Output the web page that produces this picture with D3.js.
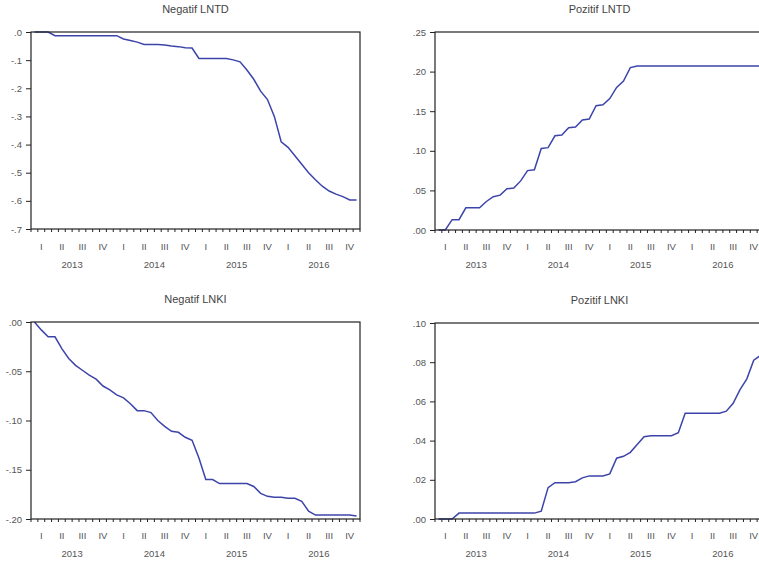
<!DOCTYPE html>
<html>
<head>
<meta charset="utf-8">
<script src="https://cdn.jsdelivr.net/npm/d3@7"></script>
<style>
    body { margin: 0; background: #fff; }
    svg { display: block; }
    .title { font-family: "Liberation Sans", Arial, sans-serif; font-size: 11px; fill: #444; }
    .tick text, .lbl { font-family: "Liberation Sans", Arial, sans-serif; font-size: 9.5px; fill: #555; }
    .line { fill: none; stroke: #3c44aa; stroke-width: 1.5px; }
</style>
</head>
<body>
<div id="chart"></div>
<script>
// monthly observations 2013M01 .. 2016M12
var YEARS = ["2013", "2014", "2015", "2016"];
var QUARTERS = ["I", "II", "III", "IV"];

var negLNTD = [0, 0, 0, -0.013, -0.013, -0.013, -0.013, -0.013, -0.013, -0.013, -0.013, -0.013,
    -0.013, -0.025, -0.030, -0.036, -0.044, -0.044, -0.044, -0.046, -0.050, -0.052, -0.056, -0.057,
    -0.094, -0.094, -0.094, -0.094, -0.094, -0.099, -0.106, -0.135, -0.168, -0.210, -0.240, -0.300,
    -0.390, -0.410, -0.440, -0.470, -0.500, -0.525, -0.548, -0.565, -0.576, -0.585, -0.597, -0.597];

var posLNTD = [0, 0, 0.013, 0.013, 0.028, 0.028, 0.028, 0.036, 0.042, 0.044, 0.052, 0.053,
    0.062, 0.075, 0.076, 0.103, 0.104, 0.119, 0.120, 0.129, 0.130, 0.139, 0.140, 0.157,
    0.158, 0.166, 0.180, 0.188, 0.205, 0.207, 0.207, 0.207, 0.207, 0.207, 0.207, 0.207,
    0.207, 0.207, 0.207, 0.207, 0.207, 0.207, 0.207, 0.207, 0.207, 0.207, 0.207, 0.207];

var negLNKI = [0, -0.008, -0.015, -0.015, -0.027, -0.037, -0.044, -0.049, -0.054, -0.058, -0.065, -0.069,
    -0.074, -0.077, -0.083, -0.090, -0.090, -0.092, -0.100, -0.106, -0.111, -0.112, -0.117, -0.120,
    -0.138, -0.160, -0.160, -0.164, -0.164, -0.164, -0.164, -0.164, -0.167, -0.174, -0.177, -0.178,
    -0.178, -0.179, -0.179, -0.182, -0.192, -0.196, -0.196, -0.196, -0.196, -0.196, -0.196, -0.197];

var posLNKI = [0, 0, 0, 0.003, 0.003, 0.003, 0.003, 0.003, 0.003, 0.003, 0.003, 0.003,
    0.003, 0.003, 0.003, 0.004, 0.016, 0.0185, 0.0185, 0.0185, 0.019, 0.021, 0.022, 0.022,
    0.022, 0.023, 0.031, 0.032, 0.034, 0.038, 0.042, 0.0425, 0.0425, 0.0425, 0.0425, 0.044,
    0.054, 0.054, 0.054, 0.054, 0.054, 0.054, 0.055, 0.059, 0.066, 0.0715, 0.081, 0.0835];

var ticksNegLNTD = [0, -0.1, -0.2, -0.3, -0.4, -0.5, -0.6, -0.7];
var ticksPosLNTD = [0, 0.05, 0.10, 0.15, 0.20, 0.25];
var ticksNegLNKI = [0, -0.05, -0.10, -0.15, -0.20];
var ticksPosLNKI = [0, 0.02, 0.04, 0.06, 0.08, 0.10];

var svg = d3.select("#chart")
    .append("svg")
        .attr("width", 759)
        .attr("height", 563)
        .style("overflow", "hidden");

// strips the leading zero like eviews does: .05, -.10
function evFormat (digits) {
    return function (d) {
        var s = Math.abs(d).toFixed(digits).replace(/^0/, "");
        return (d < 0 ? "-" : "") + s;
    };
}

function makePanel (opts) {
    var width = opts.width,
        height = opts.height;

    var x = d3.scaleLinear().domain([0, 48]).range([0, width]);
    var y = d3.scaleLinear().domain(opts.domain).range([height, 0]);

    var g = svg.append("g")
        .attr("transform", "translate(" + opts.left + "," + opts.top + ")");

    g.append("text")
        .attr("class", "title")
        .attr("x", width / 2)
        .attr("y", -19)
        .attr("text-anchor", "middle")
        .text(opts.title);

    // Y axis
    var yAxis = d3.axisLeft(y)
        .tickValues(opts.ticks)
        .tickSize(5)
        .tickPadding(4)
        .tickFormat(evFormat(opts.digits));

    var ya = g.append("g").call(yAxis);
    ya.select(".domain").remove();
    ya.selectAll("line").attr("stroke", "#222");

    // month ticks below the frame
    var xa = g.append("g")
        .attr("transform", "translate(0," + height + ")");

    xa.selectAll("line")
        .data(d3.range(0, 49))
        .enter().append("line")
        .attr("x1", function(d) { return x(d); })
        .attr("x2", function(d) { return x(d); })
        .attr("y1", 0)
        .attr("y2", 3)
        .attr("stroke", "#222");

    var quarters = d3.range(0, 16);
    xa.selectAll(".q")
        .data(quarters)
        .enter().append("text")
        .attr("class", "lbl q")
        .attr("x", function(d) { return x(d * 3 + 1.5); })
        .attr("y", opts.qy)
        .attr("text-anchor", "middle")
        .text(function(d) { return QUARTERS[d % 4]; });

    xa.selectAll(".yr")
        .data(YEARS)
        .enter().append("text")
        .attr("class", "lbl yr")
        .attr("x", function(d, i) { return x(i * 12 + 6); })
        .attr("y", opts.yy)
        .attr("text-anchor", "middle")
        .text(function(d) { return d; });

    var valueline = d3.line()
        .x(function(d, i) { return x(i + 0.5); })
        .y(function(d) { return y(d); });

    g.append("path")
        .attr("class", "line")
        .attr("d", valueline(opts.data));

    // frame
    g.append("rect")
        .attr("width", width)
        .attr("height", height)
        .attr("fill", "none")
        .attr("stroke", "#222")
        .attr("stroke-width", 1.2);
}

makePanel({ title: "Negatif LNTD", data: negLNTD, domain: [-0.7, 0], ticks: ticksNegLNTD, digits: 1,
    left: 31, top: 32, width: 329, height: 197, qy: 21, yy: 39 });
makePanel({ title: "Pozitif LNTD", data: posLNTD, domain: [0, 0.25], ticks: ticksPosLNTD, digits: 2,
    left: 435, top: 32, width: 329, height: 198, qy: 20, yy: 38 });
makePanel({ title: "Negatif LNKI", data: negLNKI, domain: [-0.2, 0], ticks: ticksNegLNKI, digits: 2,
    left: 31, top: 322, width: 329, height: 197, qy: 20, yy: 38 });
makePanel({ title: "Pozitif LNKI", data: posLNKI, domain: [0, 0.10], ticks: ticksPosLNKI, digits: 2,
    left: 435, top: 323, width: 329, height: 196, qy: 20, yy: 38 });
</script>
</body>
</html>
